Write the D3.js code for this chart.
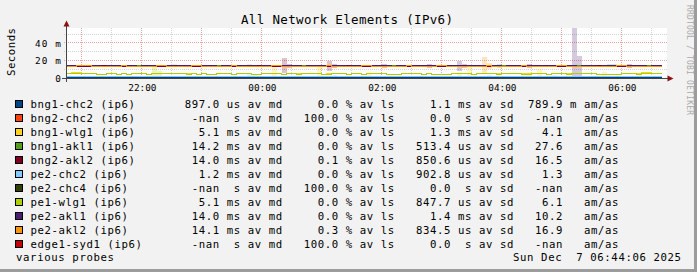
<!DOCTYPE html>
<html>
<head>
<meta charset="utf-8">
<script src="https://cdn.jsdelivr.net/npm/d3@7"></script>
<style>
html, body { margin: 0; padding: 0; background: #f2f2f2; }
svg { display: block; }
text { font-family: "DejaVu Sans Mono", monospace; white-space: pre; }
</style>
</head>
<body>
<script>
//Width and height
var w = 697;
var h = 272;

//Time window (10 hours ending at the stamp) and 5 minute samples
var viewStart = new Date(2025, 11, 6, 20, 44, 6);
var viewEnd = new Date(2025, 11, 7, 6, 44, 6);
var firstSample = new Date(2025, 11, 6, 20, 40);
var stepMin = 5;

//Hosts, legend order
var hostNames = ["bng1-chc2 (ip6)", "bng2-chc2 (ip6)", "bng1-wlg1 (ip6)", "bng1-akl1 (ip6)",
  "bng2-akl2 (ip6)", "pe2-chc2 (ip6)", "pe2-chc4 (ip6)", "pe1-wlg1 (ip6)", "pe2-akl1 (ip6)",
  "pe2-akl2 (ip6)", "edge1-syd1 (ip6)"];
var hostColors = ["#004586", "#ff420e", "#ffd320", "#579d1c", "#7e0021", "#83caff",
  "#314004", "#aecf00", "#4b1f6f", "#ff950e", "#c5000b"];

//Median round trip per 5 min step, ms (120 steps from 20:40)
var bng1Chc2 = [0.8,0.9,0.8,0.8,0.9,0.8,0.8,0.9,0.8,0.8, 0.9,0.8,0.8,0.9,0.8,0.8,0.8,0.9,0.8,0.8,
  0.8,0.9,0.8,0.8,0.9,0.8,0.8,0.8,0.9,0.8, 0.8,0.9,0.8,0.8,0.8,0.9,0.8,0.8,0.9,0.8,
  0.9,0.8,0.8,0.9,0.8,0.8,0.8,0.9,0.8,0.8, 0.8,0.9,0.8,0.8,0.9,0.8,0.8,0.9,0.8,0.8,
  0.8,0.8,0.9,0.8,0.8,0.9,0.8,0.8,0.8,0.9, 0.8,0.8,0.9,0.8,0.8,0.9,0.8,0.8,0.8,0.9,
  0.8,0.9,0.8,0.8,0.9,0.8,0.8,0.8,0.9,0.8, 0.8,0.9,0.8,0.8,0.8,0.9,0.8,0.8,0.9,0.8,
  0.9,0.8,0.8,0.9,0.8,0.8,0.8,0.9,0.8,0.8, 0.8,0.9,0.8,0.8,0.9,0.8,0.8,0.8,0.9,0.8];
var bng1Wlg1 = [5.3,5.3,6.1,6.1,5.3,5.2,5.3,4.2,4.1,5.3, 5.2,4.2,5.3,4.1,5.3,5.2,5.3,4.2,5.3,5.3,
  5.2,5.3,5.2,5.3,5.3,5.3,5.2,4.2,5.3,4.2, 4.1,5.3,5.2,5.3,4.2,5.3,5.3,5.2,4.1,4.2,
  5.3,5.2,5.3,5.3,4.2,5.2,5.3,5.3,5.3,5.3, 5.2,5.3,4.2,5.3,5.3,5.2,5.3,4.1,5.3,5.3,
  4.2,5.2,5.3,5.3,5.2,4.2,4.1,4.2,5.3,5.3, 5.2,5.3,4.2,5.3,4.1,4.2,4.2,4.1,5.3,5.2,
  5.3,5.3,4.2,5.3,5.2,5.3,5.3,5.3,5.2,5.3, 5.3,5.2,5.3,5.4,5.3,5.3,5.2,4.2,5.3,5.3,
  5.3,5.3,5.2,5.3,5.3,5.2,5.3,4.2,4.1,4.2, 4.2,4.1,5.3,5.2,5.3,5.3,6.0,6.0,5.2,5.3];
var bng1Akl1 = [13.4,13.4,13.4,13.4,13.4,13.4,13.4,13.4,13.4,13.4, 13.4,13.4,13.4,13.4,13.4,14.7,13.4,13.4,13.4,13.4,
  13.4,13.4,13.4,13.4,13.4,13.4,13.4,13.4,13.4,13.4, 13.4,14.7,13.4,13.4,13.4,13.4,13.4,13.4,13.4,13.4,
  13.4,13.4,13.4,13.4,13.4,13.4,13.4,13.4,14.7,13.4, 13.4,13.4,13.4,13.4,13.4,13.4,13.4,13.4,13.4,13.4,
  13.4,13.4,13.4,13.4,13.4,13.4,14.7,13.4,13.4,13.4, 13.4,13.4,13.4,13.4,13.4,13.4,13.4,13.4,13.4,13.4,
  13.4,13.4,13.4,13.4,13.4,13.4,13.4,13.4,14.7,13.4, 13.4,13.4,13.4,13.4,13.4,13.4,13.4,13.4,13.4,13.4,
  13.4,13.4,13.4,14.7,13.4,13.4,13.4,13.4,13.4,13.4, 13.4,13.4,13.4,13.4,13.4,13.4,13.4,14.7,13.4,13.4];
var bng2Akl2 = [13.4,13.4,13.4,13.5,13.5,13.5,13.4,13.4,14.7,13.4, 13.4,13.4,13.5,13.4,13.4,13.4,13.4,13.4,13.4,13.5,
  13.5,13.4,13.4,13.4,13.4,13.4,13.5,13.5,13.4,13.4, 13.4,13.4,13.4,13.4,13.5,13.4,13.4,13.4,13.4,14.7,
  13.4,13.4,13.5,13.5,13.4,13.4,13.4,13.4,13.4,13.4, 13.4,13.4,13.4,13.5,13.4,13.4,13.4,14.7,13.4,13.4,
  13.5,13.5,13.4,13.4,13.4,13.4,13.4,13.4,13.4,13.5, 13.4,13.4,13.4,13.4,13.4,13.5,13.5,13.4,13.4,13.4,
  14.7,13.4,13.4,13.4,13.4,13.5,13.4,13.4,13.4,13.4, 13.4,13.4,13.5,13.4,13.4,13.4,13.4,13.4,13.4,13.5,
  13.5,13.4,13.4,13.4,13.4,13.4,13.4,14.7,13.4,13.4, 13.4,13.5,13.5,13.4,13.4,13.4,13.4,13.4,13.4,13.4];
var pe2Chc2 = [1.5,1.5,1.6,1.5,1.5,1.4,1.5,1.5,1.6,1.5, 1.5,1.5,1.4,1.5,1.6,1.5,1.5,1.5,1.4,1.5,
  1.5,1.6,1.5,1.5,1.5,1.4,1.5,1.5,1.6,1.5, 1.5,1.5,1.5,1.4,1.5,1.6,1.5,1.5,1.5,1.5,
  1.4,1.5,1.5,1.6,1.5,1.5,1.5,1.4,1.5,1.5, 1.6,1.5,1.5,1.5,1.4,1.5,1.5,1.6,1.5,1.5,
  1.5,1.4,1.5,1.5,1.6,1.5,1.5,1.5,1.4,1.5, 1.5,1.6,1.5,1.5,1.5,1.4,1.5,1.5,1.6,1.5,
  1.5,1.5,1.4,1.5,1.5,1.6,1.5,1.5,1.5,1.4, 1.5,1.5,1.6,1.5,1.5,1.5,1.4,1.5,1.5,1.6,
  1.5,1.5,1.5,1.4,1.5,1.5,1.6,1.5,1.5,1.5, 1.4,1.5,1.5,1.6,1.5,1.5,1.5,1.4,1.5,1.5];
var pe1Wlg1 = [5.3,5.3,5.2,5.3,5.3,5.2,5.3,4.2,4.1,5.3, 5.2,4.2,5.3,4.1,5.3,5.2,5.3,4.2,5.3,5.3,
  5.2,5.3,5.2,5.3,5.3,4.1,5.2,4.2,5.3,4.2, 4.1,5.3,5.2,5.3,4.2,5.3,5.3,5.2,4.1,4.2,
  5.3,5.2,5.3,5.3,4.2,5.2,5.3,4.1,5.3,5.3, 5.2,5.3,4.2,4.2,5.3,5.2,5.3,4.1,5.3,5.3,
  4.2,5.2,5.3,5.3,5.2,4.2,4.1,4.2,5.3,5.3, 5.2,5.3,4.2,5.3,4.1,4.2,4.2,4.1,5.3,5.2,
  5.3,5.3,4.2,5.3,5.2,5.3,5.3,4.1,5.2,5.3, 5.3,5.2,4.2,4.1,5.3,5.3,5.2,4.2,5.3,5.3,
  5.3,4.1,5.2,5.3,5.3,5.2,5.3,4.2,4.1,4.2, 4.2,4.1,5.3,5.2,5.3,4.2,5.3,5.3,5.2,5.3];
var pe2Akl1 = [14.6,14.6,14.6,14.5,14.5,14.5,14.6,14.6,13.5,14.6, 14.6,14.6,14.5,14.6,14.6,13.5,14.6,14.6,14.6,14.5,
  14.5,14.6,14.6,14.6,14.6,14.6,14.5,14.5,14.6,14.6, 14.6,13.5,14.6,14.6,14.5,14.6,14.6,14.6,14.6,13.5,
  14.6,14.6,14.5,14.5,14.6,14.6,14.6,14.6,13.5,14.6, 14.6,14.6,14.6,14.5,14.6,14.6,14.6,13.5,14.6,14.6,
  14.5,14.5,14.6,14.6,14.6,14.6,13.5,14.6,14.6,14.5, 14.6,14.6,14.6,14.6,14.6,14.5,14.5,14.6,14.6,14.6,
  13.5,14.6,14.6,14.6,14.6,14.5,14.6,14.6,13.5,14.6, 14.6,14.6,14.5,14.6,14.6,14.6,14.6,14.6,14.6,14.5,
  14.5,14.6,14.6,13.5,14.6,14.6,14.6,13.5,14.6,14.6, 14.6,14.5,14.5,14.6,14.6,14.6,14.6,13.5,14.6,14.6];
var pe2Akl2 = [13.5,13.6,13.5,14.6,14.6,14.6,13.5,13.6,13.5,13.5, 13.6,13.5,14.6,13.5,13.6,13.5,13.5,13.6,13.5,14.6,
  14.6,13.5,13.6,13.5,13.5,13.6,14.6,14.6,13.5,13.6, 13.5,13.5,13.6,13.5,14.6,13.5,13.6,13.5,13.5,13.6,
  13.5,13.6,14.6,14.6,13.5,13.5,13.6,13.5,13.5,13.6, 13.5,13.5,13.6,14.6,13.5,13.6,13.5,13.5,13.6,13.5,
  14.6,14.6,13.5,13.6,13.5,13.5,13.6,13.5,13.5,14.6, 13.6,13.5,13.5,13.6,13.5,14.6,14.6,13.5,13.6,13.5,
  13.5,13.6,13.5,13.5,13.6,14.6,13.5,13.5,13.6,13.5, 13.5,13.6,14.6,13.5,13.5,13.6,13.5,13.5,13.6,14.6,
  14.6,13.5,13.6,13.5,13.5,13.6,13.5,13.5,13.6,13.5, 13.5,14.6,14.6,13.5,13.6,13.5,13.5,13.6,13.5,13.5];

//null = no answer (-nan)
var medianSeries = [bng1Chc2, null, bng1Wlg1, bng1Akl1, bng2Akl2, pe2Chc2, null, pe1Wlg1, pe2Akl1, pe2Akl2, null];

//Smoke: [host index, step start, low ms, high ms]
var smoke = [
  [7, "22:10", 0, 13.7], [7, "22:15", 0, 8.0], [9, "22:30", 13.0, 16.0],
  [9, "23:45", 12.8, 16.0], [5, "23:45", 0, 4.0], [5, "23:50", 0, 4.0],
  [2, "00:10", 0, 12.5], [4, "00:20", 6.0, 23.2], [4, "00:25", 11.3, 16.0],
  [2, "00:55", 0, 12.9], [4, "01:05", 8.3, 19.8], [4, "01:10", 11.4, 16.3],
  [5, "01:10", 0, 3.0], [5, "01:20", 0, 2.5], [5, "01:25", 0, 2.5],
  [2, "01:45", 0, 6.8], [4, "02:00", 11.4, 16.0], [4, "02:45", 11.4, 16.3],
  [8, "03:15", 8.3, 19.8], [8, "03:20", 11.4, 16.3], [2, "03:15", 0, 6.9],
  [2, "03:25", 0, 12.5], [9, "03:40", 5.4, 24.3], [9, "03:45", 10.3, 17.5],
  [5, "03:45", 0, 3.0], [3, "03:55", 11.4, 16.0], [4, "04:25", 11.4, 16.0],
  [2, "04:25", 0, 6.8], [2, "04:35", 0, 10.3], [5, "04:50", 0, 3.0],
  [8, "05:10", 0, 62.0], [8, "05:15", 0, 25.0], [2, "05:40", 0, 6.8],
  [3, "05:45", 12.5, 16.0], [3, "05:50", 12.5, 16.0], [4, "06:05", 11.4, 16.0]
];

//Legend statistics
var medVals = [897.0, NaN, 5.1, 14.2, 14.0, 1.2, NaN, 5.1, 14.0, 14.1, NaN];
var medUnits = ["us", " s", "ms", "ms", "ms", "ms", " s", "ms", "ms", "ms", " s"];
var lossVals = [0.0, 100.0, 0.0, 0.0, 0.1, 0.0, 100.0, 0.0, 0.0, 0.3, 100.0];
var sdVals = [1.1, 0.0, 1.3, 513.4, 850.6, 902.8, 0.0, 847.7, 1.4, 834.5, 0.0];
var sdUnits = ["ms", " s", "ms", "us", "us", "us", " s", "us", "ms", "us", " s"];
var amasVals = [789.9, NaN, 4.1, 27.6, 16.5, 1.3, NaN, 6.1, 10.2, 16.9, NaN];
var amasUnits = ["m", " ", " ", " ", " ", " ", " ", " ", " ", " ", " "];

//Axis ticks
var yLabelTicks = [0, 20, 40];
var yMajorGrid = [20, 40];
var yMinorGrid = [10, 30, 50];
var yMax = 57.14;

var titleText = "All Network Elements (IPv6)";
var yAxisTitle = "Seconds";
var footLeft = "various probes";
var stampText = "Sun Dec  7 06:44:06 2025";
var watermark = "RRDTOOL / TOBI OETIKER";

//Scales
var xScale = d3.scaleTime().domain([viewStart, viewEnd]).range([66, 666]);
var yScale = d3.scaleLinear().domain([0, yMax]).range([78, 28]);

var svg = d3.select("body").append("svg")
  .attr("width", w).attr("height", h);

//Background and 3d frame
svg.append("rect").attr("width", w).attr("height", h).attr("fill", "#f2f2f2");
svg.append("rect").attr("x", w - 3).attr("y", 0).attr("width", 3).attr("height", h).attr("fill", "#9c9c9c");
svg.append("rect").attr("x", 0).attr("y", h - 3).attr("width", w).attr("height", 3).attr("fill", "#9c9c9c");

//Canvas
svg.append("rect").attr("x", 66).attr("y", 28).attr("width", 601).attr("height", 50).attr("fill", "#ffffff");

svg.append("clipPath").attr("id", "plotclip")
  .append("rect").attr("x", 67).attr("y", 28).attr("width", 600).attr("height", 50);

//Grid
var grid = svg.append("g").attr("shape-rendering", "crispEdges").attr("stroke-dasharray", "1,1");
var xMinor = d3.timeMinute.every(30).range(viewStart, viewEnd);
grid.selectAll("line.xg").data(xMinor).enter().append("line")
  .attr("x1", function(d) { return Math.floor(xScale(d)) + 0.5; })
  .attr("x2", function(d) { return Math.floor(xScale(d)) + 0.5; })
  .attr("y1", 28).attr("y2", 80)
  .attr("stroke", function(d) { return d.getMinutes() === 0 ? "#e9a3a3" : "#d2d2d2"; });
grid.selectAll("line.ym").data(yMinorGrid).enter().append("line")
  .attr("x1", 64).attr("x2", 667)
  .attr("y1", function(d) { return Math.floor(yScale(d)) + 0.5; })
  .attr("y2", function(d) { return Math.floor(yScale(d)) + 0.5; })
  .attr("stroke", "#d2d2d2");
grid.selectAll("line.yM").data(yMajorGrid).enter().append("line")
  .attr("x1", 64).attr("x2", 667)
  .attr("y1", function(d) { return Math.floor(yScale(d)) + 0.5; })
  .attr("y2", function(d) { return Math.floor(yScale(d)) + 0.5; })
  .attr("stroke", "#e9a3a3");

var plot = svg.append("g").attr("clip-path", "url(#plotclip)").attr("shape-rendering", "crispEdges");

//Smoke bands
var clock = function(s) {
  var p = s.split(":");
  var hh = +p[0];
  return new Date(2025, 11, hh >= 12 ? 6 : 7, hh, +p[1]);
};
plot.selectAll("rect.smoke").data(smoke).enter().append("rect")
  .attr("x", function(d) { return xScale(clock(d[1])); })
  .attr("width", function(d) { return xScale(d3.timeMinute.offset(clock(d[1]), stepMin)) - xScale(clock(d[1])); })
  .attr("y", function(d) { return yScale(d[3]); })
  .attr("height", function(d) { return yScale(d[2]) - yScale(d[3]); })
  .attr("fill", function(d) { return hostColors[d[0]]; })
  .attr("fill-opacity", 0.24);

//Median lines
var toPoints = function(vals) {
  var pts = vals.map(function(v, i) {
    return { t: d3.timeMinute.offset(firstSample, i * stepMin), v: v };
  });
  pts.push({ t: d3.timeMinute.offset(firstSample, vals.length * stepMin), v: vals[vals.length - 1] });
  return pts;
};
var line = d3.line()
  .curve(d3.curveStepAfter)
  .x(function(d) { return xScale(d.t); })
  .y(function(d) { return yScale(d.v); });

medianSeries.forEach(function(vals, i) {
  if (!vals) return;
  plot.append("path")
    .datum(toPoints(vals))
    .attr("d", line)
    .attr("fill", "none")
    .attr("stroke", hostColors[i])
    .attr("stroke-width", 1);
});

//Axes
var axes = svg.append("g").attr("shape-rendering", "crispEdges");
axes.append("line").attr("x1", 62).attr("x2", 669).attr("y1", 78.5).attr("y2", 78.5).attr("stroke", "#444");
axes.append("line").attr("x1", 66.5).attr("x2", 66.5).attr("y1", 82).attr("y2", 25).attr("stroke", "#444");
svg.append("path").attr("d", "M66.5,20.5L63.5,26.5L69.5,26.5Z").attr("fill", "#8c1010");
svg.append("path").attr("d", "M673.5,78.5L667.5,75.5L667.5,81.5Z").attr("fill", "#8c1010");

//X labels
var xAxis = d3.axisBottom(xScale)
  .ticks(d3.timeHour.every(2))
  .tickFormat(d3.timeFormat("%H:%M"))
  .tickSize(0);
var gx = svg.append("g").attr("transform", "translate(0,78)").call(xAxis);
gx.select(".domain").remove();
gx.selectAll("text")
  .attr("y", 13).attr("dy", null)
  .attr("font-family", "DejaVu Sans Mono").attr("font-size", "9.4px").attr("fill", "#000");

//Y labels
var yAxis = d3.axisLeft(yScale)
  .tickValues(yLabelTicks)
  .tickFormat(function(d) { return d === 0 ? "0" : d + " m"; })
  .tickSize(0);
var gy = svg.append("g").attr("transform", "translate(61,0)").call(yAxis);
gy.select(".domain").remove();
gy.selectAll("text")
  .attr("x", 0).attr("dy", "0.35em")
  .attr("font-family", "DejaVu Sans Mono").attr("font-size", "9.4px").attr("fill", "#000")
  .attr("textLength", function(d) { return d === 0 ? null : 26; })
  .attr("lengthAdjust", "spacing");

//Title and side texts
svg.append("text").attr("x", 347).attr("y", 24)
  .attr("text-anchor", "middle").attr("font-size", "12.5px")
  .attr("textLength", 212).attr("lengthAdjust", "spacing")
  .text(titleText);
svg.append("text").attr("transform", "translate(15,52) rotate(-90)")
  .attr("text-anchor", "middle").attr("font-size", "10.67px")
  .attr("textLength", 48).attr("lengthAdjust", "spacing")
  .text(yAxisTitle);
svg.append("text").attr("transform", "translate(687,5) rotate(90)")
  .attr("font-size", "8px").attr("fill", "#aaaaaa")
  .attr("textLength", 110).attr("lengthAdjust", "spacing")
  .text(watermark);

//Legend
var fmt5 = function(v) { return (isNaN(v) ? "-nan" : v.toFixed(1)).padStart(5); };
var legendRows = hostNames.map(function(name, i) {
  return name.padEnd(22) + fmt5(medVals[i]) + " " + medUnits[i] + " av md" +
    "   " + fmt5(lossVals[i]) + " % av ls" +
    "   " + fmt5(sdVals[i]) + " " + sdUnits[i] + " av sd" +
    "  " + fmt5(amasVals[i]) + " " + amasUnits[i] + " am/as";
});

var legend = svg.append("g");
legend.selectAll("rect").data(legendRows).enter().append("rect")
  .attr("x", 15.5).attr("y", function(d, i) { return 100.5 + i * 14; })
  .attr("width", 7).attr("height", 7)
  .attr("fill", function(d, i) { return hostColors[i]; })
  .attr("stroke", "#000").attr("shape-rendering", "crispEdges");
legend.selectAll("text").data(legendRows).enter().append("text")
  .attr("x", 30.5).attr("y", function(d, i) { return 108 + i * 14; })
  .attr("font-size", "10.67px")
  .attr("textLength", function(d) { return d.length * 7; })
  .attr("lengthAdjust", "spacing")
  .text(function(d) { return d; });

svg.append("text").attr("x", 16).attr("y", 261).attr("font-size", "10.67px")
  .attr("textLength", footLeft.length * 7).attr("lengthAdjust", "spacing")
  .text(footLeft);
svg.append("text").attr("x", 681).attr("y", 261).attr("font-size", "10.67px")
  .attr("text-anchor", "end")
  .attr("textLength", stampText.length * 7).attr("lengthAdjust", "spacing")
  .text(stampText);
</script>
</body>
</html>
